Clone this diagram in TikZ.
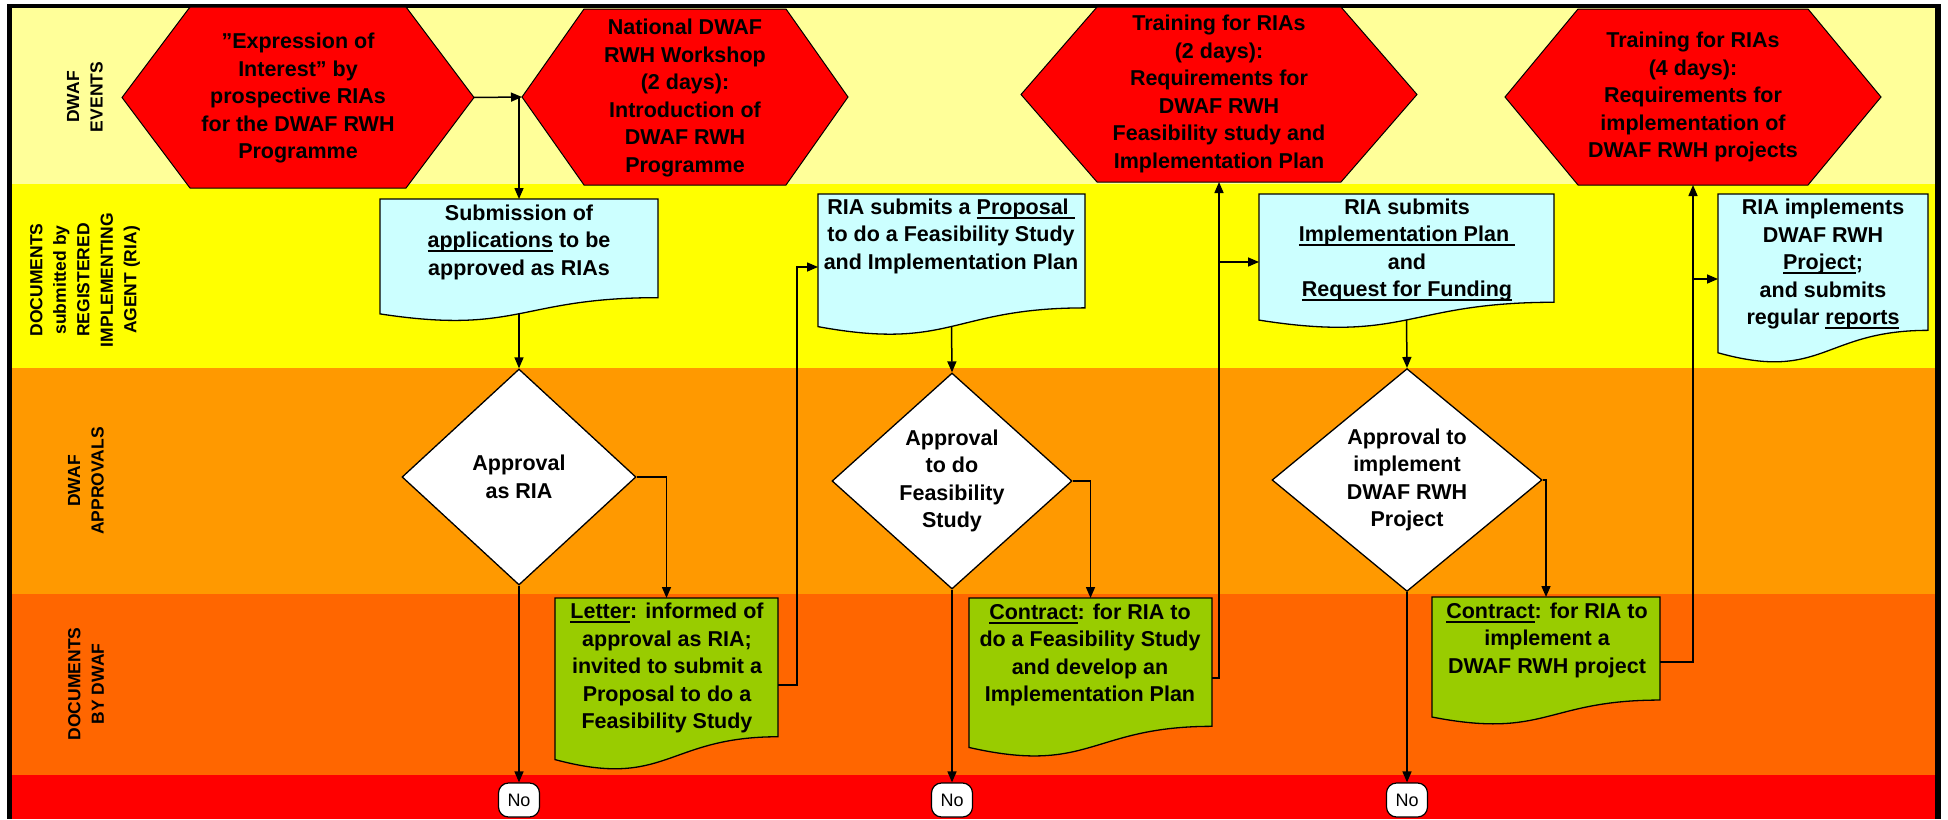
\documentclass[tikz,border=0pt]{standalone}
\usepackage{fontspec}
\setmainfont{Liberation Sans}
\usetikzlibrary{shapes.geometric,arrows.meta}
\definecolor{lanepale}{HTML}{FFFF99}
\definecolor{laneyel}{HTML}{FFFF00}
\definecolor{laneorg}{HTML}{FF9900}
\definecolor{lanedorg}{HTML}{FF6600}
\definecolor{lanered}{HTML}{FF0000}
\definecolor{doccyan}{HTML}{CCFFFF}
\definecolor{docgreen}{HTML}{99CC00}
\newsavebox\ulbox
\newcommand\ulx[1]{\sbox\ulbox{#1}\rlap{\rule[-4.5pt]{\wd\ulbox}{2pt}}\usebox\ulbox}
% name, cx, cy, half width, top half width, half height
\newcommand\hexshape[6]{%
  \path[hexst] (#2-#4,#3) -- (#2-#5,#3-#6) -- (#2+#5,#3-#6) -- (#2+#4,#3)
     -- (#2+#5,#3+#6) -- (#2-#5,#3+#6) -- cycle;
  \coordinate (#1-l) at (#2-#4,#3);
  \coordinate (#1-r) at (#2+#4,#3);
  \coordinate (#1-b) at (#2,#3+#6);
}
% name, x0, y0, w, h, fill
\newcommand\docshape[6]{%
  \path[docst, fill=#6] (#2,#3) -- (#2+#4,#3) -- (#2+#4,#3+0.802*#5)
     .. controls (#2+0.5*#4,#3+0.802*#5) and (#2+0.5*#4,#3+1.107*#5) .. (#2,#3+0.934*#5) -- cycle;
  \coordinate (#1-t) at (#2+0.5*#4,#3);
  \coordinate (#1-b) at (#2+0.5*#4,#3+0.933*#5);
}
\tikzset{
  txt/.style={align=center, font=\bfseries\fontsize{21.5}{27.5}\selectfont, inner sep=0pt},
  lbl/.style={align=center, font=\bfseries\fontsize{17.5}{23.5}\selectfont, rotate=90, inner sep=0pt},
  hexst/.style={draw=black, line width=1pt, fill=lanered},
  docst/.style={draw=black, line width=1.3pt},
  dia/.style={diamond, draw=black, line width=1.3pt, fill=white, inner sep=0pt, align=center,
              font=\bfseries\fontsize{21.5}{27.5}\selectfont},
  nost/.style={draw=black, line width=1.2pt, fill=white, rounded corners=10pt,
               minimum width=41pt, minimum height=34pt, inner sep=0pt,
               font=\fontsize{18}{20}\selectfont},
  con/.style={line width=1.5pt, -{Triangle[length=11pt,width=9pt]}},
}
\begin{document}
\begin{tikzpicture}[x=1pt,y=-1pt]
\useasboundingbox (0,0) rectangle (1948,819);
% background and lanes
\fill[white] (0,0) rectangle (1948,819);
\fill[black] (7,4) rectangle (1941,819);
\fill[lanepale] (12,8) rectangle (1935,184);
\fill[laneyel] (12,184) rectangle (1935,368);
\fill[laneorg] (12,368) rectangle (1935,594);
\fill[lanedorg] (12,594) rectangle (1935,775);
\fill[lanered] (12,775) rectangle (1935,819);
% lane labels
\node[lbl] (l1) at (85,97) {DWAF\\EVENTS};
\node[lbl] (l2) at (85,280) {DOCUMENTS\\submitted by\\REGISTERED\\IMPLEMENTING\\AGENT (RIA)};
\node[lbl] (l3) at (86,481) {DWAF\\APPROVALS};
\node[lbl] (l4) at (86,684) {DOCUMENTS\\BY DWAF};
% hexagons (DWAF events)
\hexshape{h1}{298}{97.5}{176}{108}{90.5}
\hexshape{h2}{685}{97}{163}{101}{88}
\hexshape{h3}{1219}{94.5}{198}{122}{87.5}
\hexshape{h4}{1693}{97}{188}{115}{88}
\node[txt] (t1) at (298,98) {"Expression of\\Interest" by\\prospective RIAs\\for the DWAF RWH\\Programme};
\node[txt] (t2) at (685,98) {National DWAF\\RWH Workshop\\(2 days):\\Introduction of\\DWAF RWH\\Programme};
\node[txt] (t3) at (1219,94) {Training for RIAs\\(2 days):\\Requirements for\\DWAF RWH\\Feasibility study and\\Implementation Plan};
\node[txt] (t4) at (1693,97) {Training for RIAs\\(4 days):\\Requirements for\\implementation of\\DWAF RWH projects};
% documents submitted by RIA
\docshape{d1}{380}{199}{278}{123}{doccyan}
\docshape{d2}{818}{194}{267}{142}{doccyan}
\docshape{d3}{1259}{194}{295}{135}{doccyan}
\docshape{d4}{1718}{194}{210}{170}{doccyan}
\coordinate (d2-l) at (818,267);
\coordinate (d3-l) at (1259,262);
\coordinate (d4-l) at (1718,279);
\node[txt] (td1) at (519,242) {Submission of\\\ulx{applications} to be\\approved as RIAs};
\node[txt] (td2) at (951,236) {RIA submits a \ulx{Proposal\ }\\to do a Feasibility Study\\and Implementation Plan};
\node[txt] (td3) at (1407,250) {RIA submits\\\ulx{Implementation Plan\ }\\and\\\ulx{Request for Funding}};
\node[txt] (td4) at (1823,264) {RIA implements\\DWAF RWH\\\ulx{Project};\\and submits\\regular \ulx{reports}};
% approvals
\node[dia, minimum width=234pt, minimum height=216pt] (a1) at (519,477) {Approval\\as RIA};
\node[dia, minimum width=240pt, minimum height=216pt] (a2) at (952,481) {Approval\\to do\\Feasibility\\Study};
\node[dia, minimum width=270pt, minimum height=220pt] (a3) at (1407,480) {Approval to\\implement\\DWAF RWH\\Project};
% documents by DWAF
\docshape{g1}{555}{598}{223}{173}{docgreen}
\docshape{g2}{969}{598}{243}{160}{docgreen}
\docshape{g3}{1432}{597}{228}{128.5}{docgreen}
\coordinate (g1-r) at (778,685);
\coordinate (g2-r) at (1212,678);
\coordinate (g3-r) at (1660,662);
\node[txt] (tg1) at (667,668) {\ulx{Letter}: informed of\\approval as RIA;\\invited to submit a\\Proposal to do a\\Feasibility Study};
\node[txt] (tg2) at (1090,655) {\ulx{Contract}: for RIA to\\do a Feasibility Study\\and develop an\\Implementation Plan};
\node[txt] (tg3) at (1547,640) {\ulx{Contract}: for RIA to\\implement a\\DWAF RWH project};
% No terminators
\node[nost] (no1) at (519,800) {No};
\node[nost] (no2) at (952,800) {No};
\node[nost] (no3) at (1407,800) {No};
% connectors
\draw[con] (h1-r) -- (h2-l);
\draw[con] (h2-l -| d1-t) -- (d1-t);
\draw[con] (d1-b) -- (a1.north);
\draw[con] (a1.east) -| (g1-t);
\draw[con] (a1.south) -- (no1.north);
\draw[con] (g1-r) -- ++(19,0) |- (d2-l);
\draw[con] (d2-b) -- (a2.north);
\draw[con] (a2.east) -| (g2-t);
\draw[con] (a2.south) -- (no2.north);
\draw[con] (g2-r) -| (h3-b);
\draw[con] (h3-b |- d3-l) -- (d3-l);
\draw[con] (d3-b) -- (a3.north);
\draw[con] (a3.east) -| (g3-t);
\draw[con] (a3.south) -- (no3.north);
\draw[con] (g3-r) -| (h4-b);
\draw[con] (h4-b |- d4-l) -- (d4-l);
\end{tikzpicture}
\end{document}
